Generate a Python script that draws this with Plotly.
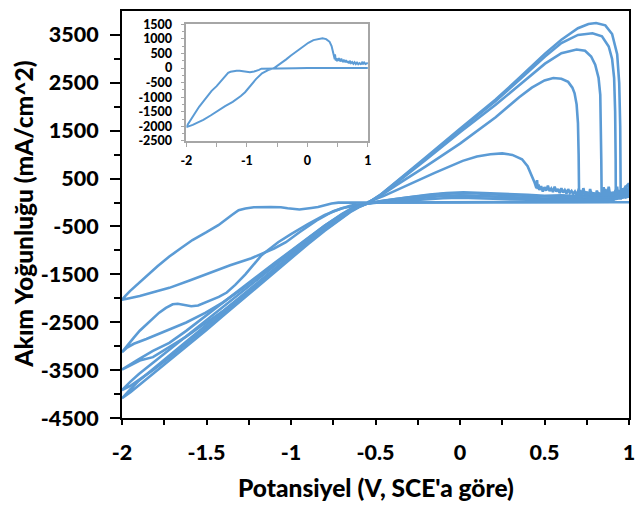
import plotly.graph_objects as go

# ---------------- data ----------------
# Cycle 1: reverse flat, cathodic to -2 V, anodic back to +1 V
cycle1_v = [1.0, 0.8, 0.6, 0.4, 0.2, 0.0, -0.2, -0.4, -0.6, -0.72, -0.76, -0.8, -0.84, -0.88, -0.95, -1.02,
            -1.06, -1.12, -1.17, -1.22, -1.27, -1.31, -1.35, -1.39, -1.43, -1.5, -1.583, -1.65, -1.72, -1.79,
            -1.856, -1.91, -1.953, -1.98, -2.0,
            -1.97, -1.93, -1.895, -1.8, -1.72, -1.6, -1.485, -1.36, -1.234, -1.164, -1.1, -1.03, -0.95, -0.85,
            -0.75, -0.65, -0.55, -0.45, -0.35, -0.277, -0.15, 0.016, 0.1, 0.18, 0.25, 0.31, 0.367, 0.40, 0.425,
            0.44, 0.452, 0.456, 0.46, 0.465, 0.47, 0.48, 0.49, 0.5, 0.51, 0.52, 0.53, 0.54, 0.55, 0.56, 0.57,
            0.58, 0.59, 0.6, 0.61, 0.62, 0.63, 0.64, 0.65, 0.66, 0.67, 0.68, 0.69, 0.7, 0.72, 0.74, 0.76,
            0.78, 0.8, 0.82, 0.84, 0.86, 0.88, 0.9, 0.91, 0.92, 0.94, 0.96, 0.98, 1.0]
cycle1_i = [5, 8, 6, 10, 5, 0, -3, -5, -3, -2, -20, -60, -95, -115, -145, -120,
            -100, -95, -95, -100, -125, -160, -260, -360, -473, -620, -783, -950, -1128, -1330,
            -1541, -1700, -1851, -1950, -2030,
            -2010, -1985, -1954, -1860, -1782, -1630, -1473, -1310, -1163, -1060, -960, -830, -620, -380,
            -180, -70, 0, 140, 300, 422, 620, 870, 960, 1010, 1027, 995, 903, 760, 560,
            430, 300, 470, 280, 380, 260, 340, 230, 320, 250, 350, 240, 290, 220, 330, 230,
            280, 200, 300, 210, 260, 190, 280, 200, 240, 180, 230, 160, 250, 170, 210, 150,
            200, 140, 190, 130, 170, 140, 160, 220, 130, 190, 140, 170, 180]

cycle2_v = [1.0, 0.9, 0.8, 0.7, 0.6, 0.5, 0.4, 0.3, 0.2, 0.1, 0.02, -0.08, -0.18, -0.28, -0.38, -0.46, -0.55,
            -0.62, -0.7, -0.8, -0.9, -1.0, -1.076, -1.174, -1.27, -1.33, -1.38, -1.427, -1.505, -1.55, -1.59,
            -1.63, -1.67, -1.7, -1.74, -1.78, -1.82, -1.856, -1.895, -1.93, -1.965, -2.0,
            -1.97, -1.93, -1.856, -1.817, -1.72, -1.62, -1.505, -1.4, -1.3, -1.2, -1.1, -1.0, -0.9, -0.8, -0.7,
            -0.62, -0.55, -0.47, -0.374, -0.2, 0.0, 0.211, 0.35, 0.425, 0.5, 0.552, 0.6, 0.64, 0.665, 0.678,
            0.69, 0.698, 0.702, 0.704, 0.705, 0.71, 0.72, 0.73, 0.74, 0.75, 0.76, 0.77, 0.78, 0.79, 0.8, 0.81,
            0.82, 0.83, 0.84, 0.85, 0.86, 0.87, 0.88, 0.9, 0.92, 0.94, 0.96, 0.98, 1.0]
cycle2_i = [170, 140, 150, 135, 150, 140, 160, 170, 185, 205, 215, 200, 165, 120, 75, 35, -20,
            -60, -120, -260, -450, -660, -830, -1100, -1500, -1720, -1880, -1970, -2080, -2150, -2165,
            -2140, -2113, -2125, -2200, -2300, -2430, -2540, -2677, -2820, -2970, -3125,
            -3030, -2950, -2849, -2790, -2650, -2506, -2300, -2080, -1830, -1560, -1280, -1010, -740, -480, -250,
            -100, -15, 146, 370, 760, 1230, 1780, 2200, 2400, 2550, 2600, 2585, 2520, 2400, 2280,
            2050, 1660, 1000, 283, 20, 260, 140, 300, 150, 230, 110, 280, 130, 210, 100, 250,
            140, 200, 90, 320, 120, 190, 110, 180, 100, 170, 120, 160, 140]

cycle3_v = [1.0, 0.9, 0.8, 0.7, 0.6, 0.5, 0.4, 0.3, 0.2, 0.1, 0.0, -0.1, -0.2, -0.3, -0.4, -0.48, -0.55,
            -0.6, -0.65, -0.7, -0.8, -0.9, -1.0, -1.1, -1.2, -1.3, -1.4, -1.5, -1.62, -1.72, -1.817, -1.9,
            -1.95, -2.0,
            -1.95, -1.895, -1.817, -1.72, -1.62, -1.544, -1.4, -1.3, -1.2, -1.1, -1.0, -0.9, -0.8, -0.72,
            -0.65, -0.6, -0.55, -0.47, -0.374, -0.2, 0.0, 0.211, 0.35, 0.503, 0.6, 0.69, 0.74, 0.776, 0.8,
            0.82, 0.83, 0.834, 0.836, 0.838, 0.84, 0.845, 0.85, 0.86, 0.87, 0.88, 0.89, 0.9, 0.91, 0.92, 0.94,
            0.96, 0.98, 1.0]
cycle3_i = [140, 120, 135, 115, 130, 125, 140, 150, 170, 190, 195, 180, 150, 110, 65, 25, -20,
            -70, -140, -240, -480, -740, -1000, -1270, -1540, -1810, -2080, -2350, -2680, -2930, -3100, -3270,
            -3380, -3490,
            -3400, -3300, -3229, -3020, -2800, -2609, -2260, -1990, -1700, -1400, -1110, -830, -560, -350,
            -180, -90, -20, 150, 410, 900, 1470, 2040, 2450, 2900, 3120, 3196, 3170, 3050, 2880,
            2600, 2250, 1700, 900, 200, 20, 240, 110, 280, 130, 330, 120, 220, 100, 260, 120,
            190, 110, 170, 120]

cycle4_v = [1.0, 0.9, 0.8, 0.7, 0.6, 0.5, 0.4, 0.3, 0.2, 0.1, 0.0, -0.1, -0.2, -0.3, -0.4, -0.48, -0.55,
            -0.6, -0.65, -0.7, -0.8, -0.9, -1.0, -1.1, -1.2, -1.3, -1.4, -1.5, -1.62, -1.72, -1.817, -1.9,
            -1.95, -2.0,
            -1.95, -1.895, -1.817, -1.72, -1.62, -1.5, -1.4, -1.3, -1.2, -1.1, -1.0, -0.9, -0.8, -0.72,
            -0.65, -0.6, -0.55, -0.47, -0.374, -0.2, 0.0, 0.211, 0.35, 0.503, 0.6, 0.698, 0.784, 0.84, 0.88,
            0.9, 0.912, 0.918, 0.921, 0.922, 0.93, 0.935, 0.94, 0.95, 0.96, 0.97, 0.98, 0.99, 1.0]
cycle4_i = [130, 90, 100, 80, 95, 85, 100, 110, 125, 140, 150, 135, 110, 80, 45, 15, -25,
            -80, -150, -260, -510, -780, -1050, -1330, -1610, -1890, -2170, -2440, -2780, -3060, -3330, -3580,
            -3740, -3917,
            -3830, -3700, -3500, -3240, -2960, -2610, -2320, -2020, -1720, -1420, -1120, -840, -570, -360,
            -190, -90, -20, 160, 430, 930, 1520, 2120, 2560, 3050, 3330, 3500, 3535, 3470, 3260,
            3000, 2600, 1900, 900, 60, 330, 120, 260, 100, 220, 110, 350, 120, 130]

cycle5_v = [1.0, 0.9, 0.8, 0.7, 0.6, 0.5, 0.4, 0.3, 0.2, 0.1, 0.0, -0.1, -0.2, -0.3, -0.4, -0.48, -0.55,
            -0.6, -0.65, -0.7, -0.8, -0.9, -1.0, -1.1, -1.2, -1.3, -1.4, -1.5, -1.62, -1.72, -1.817, -1.9,
            -1.95, -2.0,
            -1.95, -1.895, -1.817, -1.72, -1.62, -1.5, -1.4, -1.3, -1.2, -1.1, -1.0, -0.9, -0.8, -0.72,
            -0.65, -0.6, -0.55, -0.47, -0.374, -0.2, 0.0, 0.211, 0.35, 0.503, 0.6, 0.698, 0.76, 0.805, 0.86,
            0.9, 0.93, 0.942, 0.948, 0.95, 0.951, 0.96, 0.97, 0.98, 0.99, 1.0, 0.9, 0.7, 0.5, 0.3, 0.1, -0.1,
            -0.3, -0.5]
cycle5_i = [130, 60, 70, 50, 60, 55, 65, 70, 80, 95, 100, 90, 70, 45, 20, 0, -25,
            -80, -160, -280, -540, -820, -1100, -1390, -1680, -1970, -2260, -2550, -2900, -3190, -3470, -3720,
            -3900, -4089,
            -3960, -3800, -3590, -3310, -3020, -2660, -2360, -2060, -1760, -1460, -1160, -870, -590, -380,
            -200, -100, -20, 165, 450, 950, 1540, 2150, 2600, 3110, 3400, 3640, 3730, 3748, 3700,
            3520, 3100, 2500, 1600, 800, 60, 300, 120, 240, 110, 400, 15, 10, 12, 8, 10, 5,
            2, 0]

cycles_v = [cycle1_v, cycle2_v, cycle3_v, cycle4_v, cycle5_v]
cycles_i = [cycle1_i, cycle2_i, cycle3_i, cycle4_i, cycle5_i]

main_y_ticks = [-4500, -3500, -2500, -1500, -500, 500, 1500, 2500, 3500]
main_y_labels = ["-4500", "-3500", "-2500", "-1500", "-500", "500", "1500", "2500", "3500"]
main_x_ticks = [-2, -1.5, -1, -0.5, 0, 0.5, 1]
main_x_labels = ["-2", "-1.5", "-1", "-0.5", "0", "0.5", "1"]
inset_y_ticks = [-2500, -2000, -1500, -1000, -500, 0, 500, 1000, 1500]
inset_y_labels = ["-2500", "-2000", "-1500", "-1000", "-500", "0", "500", "1000", "1500"]
inset_x_ticks = [-2, -1, 0, 1]
inset_x_labels = ["-2", "-1", "0", "1"]

x_title = "Potansiyel (V, SCE'a göre)"
y_title = "Akım Yoğunluğu (mA/cm^2)"

# ---------------- figure ----------------
COLOR = "#5B9BD5"
FONT = "Lato"
fig = go.Figure()

for v, i in zip(cycles_v, cycles_i):
    fig.add_trace(go.Scatter(x=v, y=i, mode="lines", line=dict(color=COLOR, width=2.6),
                             showlegend=False, hoverinfo="skip"))

# inset (cycle 1 only)
fig.add_trace(go.Scatter(x=cycle1_v, y=cycle1_i, mode="lines", line=dict(color=COLOR, width=2),
                         xaxis="x2", yaxis="y2", showlegend=False, hoverinfo="skip"))

tickfont = dict(family=FONT, size=21.5, color="black", weight=900)
inset_font = dict(family=FONT, size=12.5, color="black", weight=900)
fig.update_layout(
    width=638, height=505,
    margin=dict(l=122, r=3, t=7, b=87),
    paper_bgcolor="white", plot_bgcolor="white",
    xaxis=dict(range=[-2, 1], tickvals=main_x_ticks, ticktext=main_x_labels,
               showline=True, linecolor="black", linewidth=2, mirror=True,
               ticks="outside", ticklen=5, tickwidth=2, tickcolor="black",
               minor=dict(ticks="outside", ticklen=5, tickwidth=2, tickcolor="black", dtick=0.25),
               showgrid=False, zeroline=False, tickfont=tickfont, ticklabelstandoff=9),
    xaxis3=dict(range=[-2, 1], overlaying="x", anchor="y", tickvals=main_x_ticks,
                showticklabels=False, ticks="inside", ticklen=7, tickwidth=2, tickcolor="black",
                showline=False, showgrid=False, zeroline=False),
    yaxis=dict(range=[-4500, 4000], tickvals=main_y_ticks, ticktext=main_y_labels,
               showline=True, linecolor="black", linewidth=2, mirror=True,
               ticks="outside", ticklen=10, tickwidth=2, tickcolor="black",
               minor=dict(ticks="outside", ticklen=6, tickwidth=2, tickcolor="black",
                          tickvals=[-4000, -3000, -2000, -1000, 0, 1000, 2000, 3000]),
               showgrid=False, zeroline=False, tickfont=tickfont, ticklabelstandoff=7),
    xaxis2=dict(domain=[0.127, 0.485], anchor="y2", range=[-2, 1],
                tickvals=inset_x_ticks, ticktext=inset_x_labels,
                showline=True, linecolor="#A6A6A6", linewidth=1.5, mirror=True,
                ticks="outside", ticklen=4, tickwidth=1, tickcolor="#A6A6A6",
                minor=dict(ticks="outside", ticklen=4, tickwidth=1, tickcolor="#A6A6A6", dtick=0.5),
                showgrid=False, zeroline=False, tickfont=inset_font, ticklabelstandoff=3),
    yaxis2=dict(domain=[0.681, 0.967], anchor="x2", range=[-2500, 1500],
                tickvals=inset_y_ticks, ticktext=inset_y_labels,
                showline=True, linecolor="#A6A6A6", linewidth=1.5, mirror=True,
                ticks="outside", ticklen=4, tickwidth=1, tickcolor="#A6A6A6",
                minor=dict(ticks="outside", ticklen=3, tickwidth=1, tickcolor="#A6A6A6", dtick=250),
                showgrid=False, zeroline=False, tickfont=inset_font, ticklabelstandoff=6),
    annotations=[
        dict(text=x_title, xref="paper", yref="paper", x=0.5, y=-0.17, xanchor="center",
             yanchor="middle", showarrow=False,
             font=dict(family=FONT, size=24.5, color="black", weight=900)),
        dict(text=y_title, xref="paper", yref="paper", x=-0.195, y=0.5, xanchor="center",
             yanchor="middle", showarrow=False, textangle=-90,
             font=dict(family=FONT, size=24.5, color="black", weight=900)),
    ],
)

fig.write_html("out.html")
